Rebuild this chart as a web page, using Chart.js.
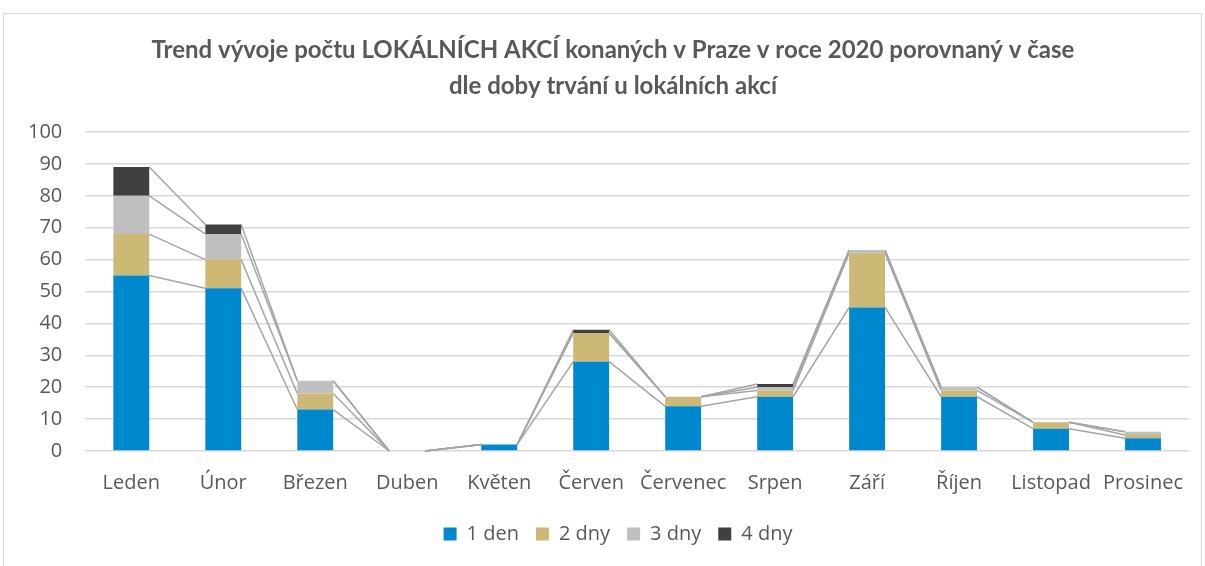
<!DOCTYPE html>
<html>
<head>
<meta charset="utf-8">
<script src="https://cdn.jsdelivr.net/npm/chart.js@4"></script>
<style>
  body { margin: 0; background: #fff; }
  #frame { position: absolute; left: 3px; top: 13px; width: 1197px; height: 560px;
           border: 1px solid #d9d9d9; border-bottom: none; }
  #wrap { position: absolute; left: 0; top: 0; width: 1205px; height: 566px; }
</style>
</head>
<body>
<div id="frame"></div>
<div id="wrap"><canvas id="myChart"></canvas></div>
<script>
const months = ['Leden', 'Únor', 'Březen', 'Duben', 'Květen', 'Červen', 'Červenec', 'Srpen', 'Září', 'Říjen', 'Listopad', 'Prosinec'];

const oneDay   = [55, 51, 13, 0, 2, 28, 14, 17, 45, 17, 7, 4];
const twoDays  = [13,  9,  5, 0, 0,  9,  3,  2, 17,  2, 2, 1];
const threeDays = [12, 8,  4, 0, 0,  0,  0,  1,  1,  1, 0, 1];
const fourDays = [ 9,  3,  0, 0, 0,  1,  0,  1,  0,  0, 0, 0];

const titleLines = ['Trend vývoje počtu LOKÁLNÍCH AKCÍ konaných v Praze v roce 2020 porovnaný v čase', 'dle doby trvání u lokálních akcí'];

const ctx = document.getElementById('myChart');

// Excel-style series lines between stacked bars
const seriesLines = {
  id: 'seriesLines',
  beforeDatasetsDraw(chart) {
    const c = chart.ctx;
    c.save();
    c.strokeStyle = '#a5a5a5';
    c.lineWidth = 1.5;
    chart.data.datasets.forEach((ds, d) => {
      const meta = chart.getDatasetMeta(d);
      for (let i = 0; i < meta.data.length - 1; i++) {
        const a = meta.data[i], b = meta.data[i + 1];
        c.beginPath();
        c.moveTo(a.x + a.width / 2, a.y);
        c.lineTo(b.x - b.width / 2, b.y);
        c.stroke();
      }
    });
    c.restore();
  }
};

// nudge title and legend so they sit centred like in Excel
const shiftBoxes = {
  id: 'shiftBoxes',
  afterLayout(chart) {
    if (chart.titleBlock) { chart.titleBlock.left += 16; chart.titleBlock.right += 16; }
    if (chart.legend) { chart.legend.left += 21; chart.legend.right += 21; }
  }
};

const titleFont = "Lato, 'Liberation Sans', sans-serif";
const font = "'Open Sans', 'Liberation Sans', sans-serif";

const myChart = new Chart(ctx, {
  type: 'bar',
  data: {
    labels: months,
    datasets: [
      { label: '1 den', data: oneDay, backgroundColor: '#0088cf' },
      { label: '2 dny', data: twoDays, backgroundColor: '#cbb975' },
      { label: '3 dny', data: threeDays, backgroundColor: '#bfbfbf' },
      { label: '4 dny', data: fourDays, backgroundColor: '#404040' }
    ]
  },
  plugins: [seriesLines, shiftBoxes],
  options: {
    responsive: true,
    maintainAspectRatio: false,
    animation: false,
    datasets: { bar: { categoryPercentage: 1, barPercentage: 0.39 } },
    layout: { padding: { left: 5, right: 16, top: 32, bottom: 12 } },
    plugins: {
      title: {
        display: true,
        text: titleLines,
        color: '#595959',
        font: { family: titleFont, size: 24, weight: 'bold', lineHeight: 1.5 },
        padding: { top: 0, bottom: 28 }
      },
      legend: {
        position: 'bottom',
        labels: {
          color: '#595959',
          font: { family: font, size: 20 },
          boxWidth: 13, boxHeight: 13,
          padding: 17
        }
      },
      tooltip: { enabled: false }
    },
    scales: {
      x: {
        stacked: true,
        grid: { display: false },
        border: { display: false },
        ticks: { color: '#595959', font: { family: font, size: 20 }, padding: 12, maxRotation: 0, autoSkip: false }
      },
      y: {
        stacked: true,
        min: 0, max: 100,
        grid: { color: '#d9d9d9', lineWidth: 1.5, drawTicks: false },
        border: { display: false },
        ticks: { stepSize: 10, color: '#595959', font: { family: font, size: 20 }, padding: 23 }
      }
    }
  }
});
</script>
</body>
</html>
